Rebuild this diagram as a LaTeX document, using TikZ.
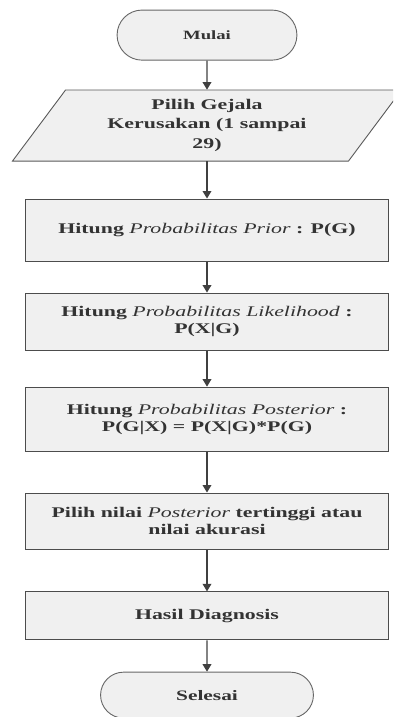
\documentclass[tikz,border=0pt]{standalone}
\usepackage{fontspec}
\newfontfamily\boxfont[FakeStretch=1.48]{Liberation Serif}
\usepackage{tikz}
\usetikzlibrary{arrows.meta,shapes.misc}
\tikzset{
	flowline/.style={draw=black!75, line width=0.4mm, -{Triangle[width=2.9mm,length=2.5mm]}},
	procbox/.style={draw=black!70, line width=0.35mm, fill=black!6, minimum width=12.13cm, align=center, text=black!80, font=\boxfont\bfseries\fontsize{14}{16}\selectfont},
	termbox/.style={rounded rectangle, draw=black!60, line width=0.3mm, fill=black!6, text=black!80}
}
\newcommand{\ital}[1]{\textit{\mdseries #1}}

\begin{document}
\begin{tikzpicture}
			%%%%% START %%%%%
			
			\useasboundingbox (0, 0) rectangle (13.1, -23.9);
			\clip (0, 0) rectangle (13.1, -23.9);
			
			\node[termbox, minimum width=6.23cm, minimum height=1.67cm, font=\boxfont\bfseries\fontsize{12}{15}\selectfont] (mulai) at (6.9, -1.17) {Mulai};
			
			\draw[line width=0.3mm, draw=black!65, fill=black!6] (0.415, -5.37) -- (11.615, -5.37) -- (13.385, -3.0) -- (2.185, -3.0) -- cycle;
			\node[align=center, minimum height=2.37cm, text=black!80, font=\boxfont\bfseries\fontsize{14}{18.5}\selectfont] (pilih) at (6.9, -4.18) {Pilih Gejala\\Kerusakan (1 sampai\\29)};
			
			\node[procbox, minimum height=2.07cm] (prior) at (6.9, -7.67) {Hitung \ital{Probabilitas Prior} : P(G)};
			\node[procbox, minimum height=1.9cm] (likelihood) at (6.9, -10.72) {Hitung \ital{Probabilitas Likelihood} :\\P(X|G)};
			\node[procbox, minimum height=2.13cm] (posterior) at (6.9, -13.97) {Hitung \ital{Probabilitas Posterior} :\\P(G|X) = P(X|G)*P(G)};
			\node[procbox, minimum height=1.87cm] (pilihnilai) at (6.9, -17.37) {Pilih nilai \ital{Posterior} tertinggi atau\\nilai akurasi};
			\node[procbox, minimum height=1.6cm] (hasil) at (6.9, -20.53) {Hasil Diagnosis};
			
			\node[termbox, minimum width=7.33cm, minimum height=1.53cm, font=\boxfont\bfseries\fontsize{13.7}{16}\selectfont] (selesai) at (6.9, -23.17) {Selesai};
			
			\draw[flowline] (mulai) -- (pilih);
			\draw[flowline] (pilih) -- (prior);
			\draw[flowline] (prior) -- (likelihood);
			\draw[flowline] (likelihood) -- (posterior);
			\draw[flowline] (posterior) -- (pilihnilai);
			\draw[flowline] (pilihnilai) -- (hasil);
			\draw[flowline] (hasil) -- (selesai);
			
			%%%%% END %%%%%
\end{tikzpicture}
\end{document}
